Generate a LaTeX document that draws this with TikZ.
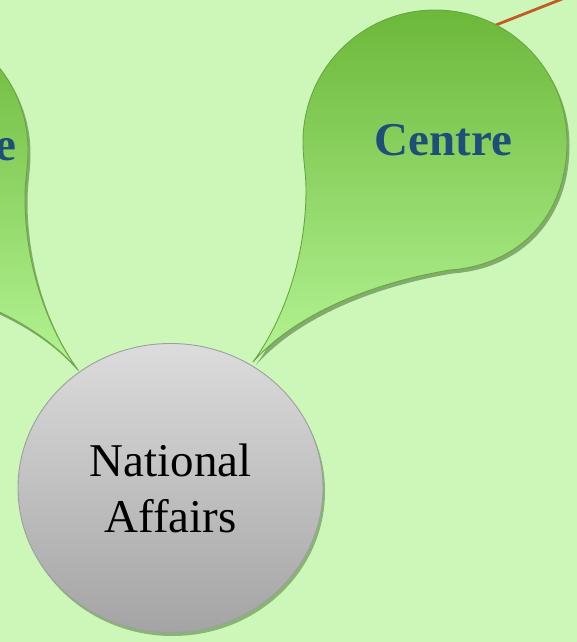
\documentclass[tikz,border=0pt]{standalone}
\usepackage{fontspec}
\setmainfont{Liberation Serif}
\usetikzlibrary{shapes.geometric,shadows}
\definecolor{bgGreen}{RGB}{204,247,184}
\definecolor{leafTop}{RGB}{108,184,58}
\definecolor{leafBot}{RGB}{180,244,148}
\definecolor{leafLine}{RGB}{106,166,64}
\definecolor{labelBlue}{RGB}{31,78,121}
\definecolor{linkBrown}{RGB}{192,92,36}
\definecolor{hubTop}{RGB}{220,220,220}
\definecolor{hubBot}{RGB}{164,164,164}
\definecolor{hubLine}{RGB}{158,158,158}
\definecolor{shadowGreen}{RGB}{40,80,20}
\tikzset{
    leaf/.style={draw=leafLine, line width=0.9pt, top color=leafTop, bottom color=leafBot,
        drop shadow={fill=shadowGreen, opacity=0.45, shadow xshift=2.5pt, shadow yshift=-3.5pt}},
    leaflabel/.style={text=labelBlue, font=\fontsize{47}{56}\selectfont\bfseries, inner sep=0pt},
    hub/.style={ellipse, draw=hubLine, line width=0.9pt, top color=hubTop, bottom color=hubBot,
        minimum width=305pt, minimum height=289pt, inner sep=0pt, align=center,
        font=\fontsize{47}{56}\selectfont,
        drop shadow={fill=shadowGreen, opacity=0.4, shadow xshift=2pt, shadow yshift=-3.5pt}}
}

\begin{document}
\begin{tikzpicture}[x=1pt,y=-1pt]
            \useasboundingbox (0,0) rectangle (577,642);
            \clip (0,0) rectangle (577,642);
            \fill[bgGreen] (0,0) rectangle (577,642);

            % link leaving the picture
            \coordinate (linkA) at (440,47);
            \coordinate (linkB) at (585,-10);
            \draw[linkBrown, line width=2.8pt] (linkA) -- (linkB);

            % leaves
            \path[leaf] (253,362) .. controls (285,318) and (306,255) .. (306,190)
                .. controls (306,172) and (303,160) .. (303,142)
                .. controls (303,69) and (362,10) .. (435,10)
                .. controls (508,10) and (567,69) .. (567,142)
                .. controls (567,215) and (520,265) .. (450,270)
                .. controls (360,285) and (290,320) .. (253,362) -- cycle;
            \path[leaf] (78,370) .. controls (46,326) and (25,263) .. (25,198)
                .. controls (25,180) and (28,168) .. (28,150)
                .. controls (28,77) and (-31,18) .. (-104,18)
                .. controls (-177,18) and (-236,77) .. (-236,150)
                .. controls (-236,223) and (-189,273) .. (-119,278)
                .. controls (-29,290) and (41,326) .. (78,370) -- cycle;

            \node[leaflabel, anchor=base] (centre) at (443.5,155) {Centre};
            \node[leaflabel, anchor=base east] (leftleaf) at (17,160) {e};

            % hub
            \node[hub] (natl) at (170.5,488) {National\\Affairs};
        \end{tikzpicture}
\end{document}
